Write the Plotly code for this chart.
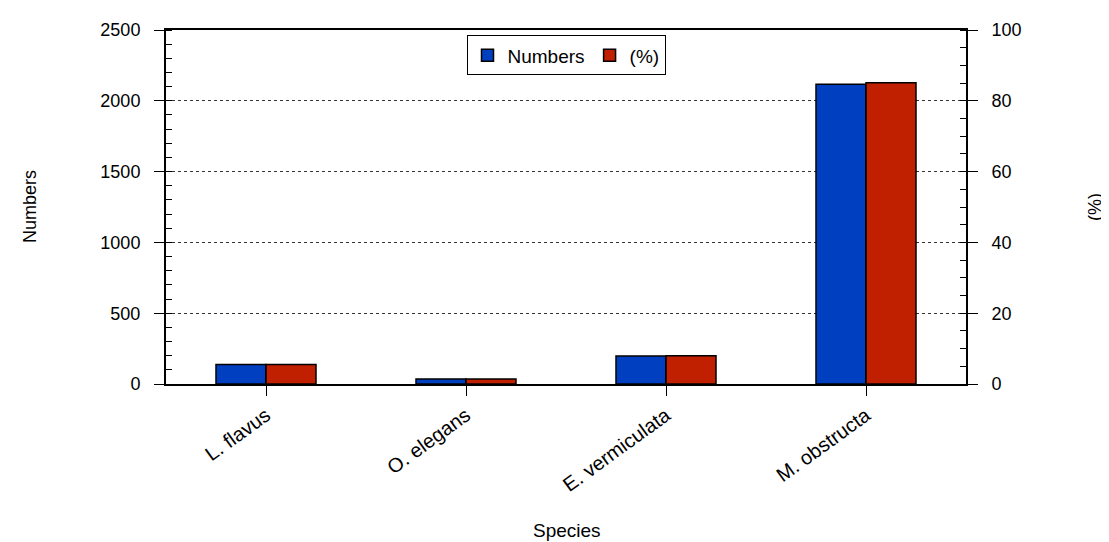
import plotly.graph_objects as go

species = ["L. flavus", "O. elegans", "E. vermiculata", "M. obstructa"]
numbers = [137, 35, 198, 2116]
percent = [5.5, 1.4, 8.0, 85.1]

FONT = "Liberation Sans, Arial, sans-serif"
BLUE = "#0040C0"
RED = "#C02000"

fig = go.Figure()
fig.add_trace(go.Bar(
    x=species, y=numbers, name="Numbers", yaxis="y", offsetgroup="1",
    marker=dict(color=BLUE, line=dict(color="black", width=1.5)),
))
fig.add_trace(go.Bar(
    x=species, y=percent, name="(%)", yaxis="y2", offsetgroup="2",
    marker=dict(color=RED, line=dict(color="black", width=1.5)),
))

fig.update_layout(
    width=1109, height=542,
    margin=dict(l=158, r=151, t=18, b=166),
    paper_bgcolor="white", plot_bgcolor="white",
    font=dict(family=FONT, size=18, color="black"),
    barmode="group", bargap=0.5, bargroupgap=0,
    showlegend=True,
    legend=dict(
        orientation="h", x=0.5, xanchor="center", y=0.985, yanchor="top",
        bordercolor="black", borderwidth=1, bgcolor="white",
        font=dict(size=19), itemwidth=30, tracegroupgap=0,
    ),
    xaxis=dict(
        showline=True, linecolor="black", linewidth=2, mirror=True,
        ticks="outside", ticklen=10, tickcolor="black", tickwidth=1,
        tickangle=-36, tickfont=dict(size=20), showgrid=False,
    ),
    yaxis=dict(
        range=[0, 2500], dtick=500, showline=True, linecolor="black", linewidth=2,
        ticks="outside", ticklen=10, tickcolor="black", ticklabelstandoff=10,
        minor=dict(dtick=100, ticks="inside", ticklen=6, tickcolor="black", showgrid=False),
        showgrid=True, gridcolor="#333", griddash="dot", gridwidth=1,
        zeroline=False,
    ),
    yaxis2=dict(
        range=[0, 100], dtick=20, overlaying="y", side="right",
        showline=True, linecolor="black", linewidth=2,
        ticks="outside", ticklen=10, tickcolor="black", ticklabelstandoff=10,
        minor=dict(dtick=5, ticks="inside", ticklen=6, tickcolor="black", showgrid=False),
        showgrid=False, zeroline=False,
    ),
    annotations=[
        dict(text="Numbers", xref="paper", yref="paper", x=(30 - 166) / 800, y=0.5,
             xanchor="center", yanchor="middle",
             textangle=-90, showarrow=False, font=dict(size=18)),
        dict(text="(%)", xref="paper", yref="paper", x=(1095 - 166) / 800, y=0.5,
             xanchor="center", yanchor="middle",
             textangle=-90, showarrow=False, font=dict(size=18)),
        dict(text="Species", xref="paper", yref="paper", x=(567 - 166) / 800, y=-(532 - 384) / 358,
             xanchor="center", yanchor="middle",
             showarrow=False, font=dict(size=19)),
    ],
)

fig.write_html("out.html")
